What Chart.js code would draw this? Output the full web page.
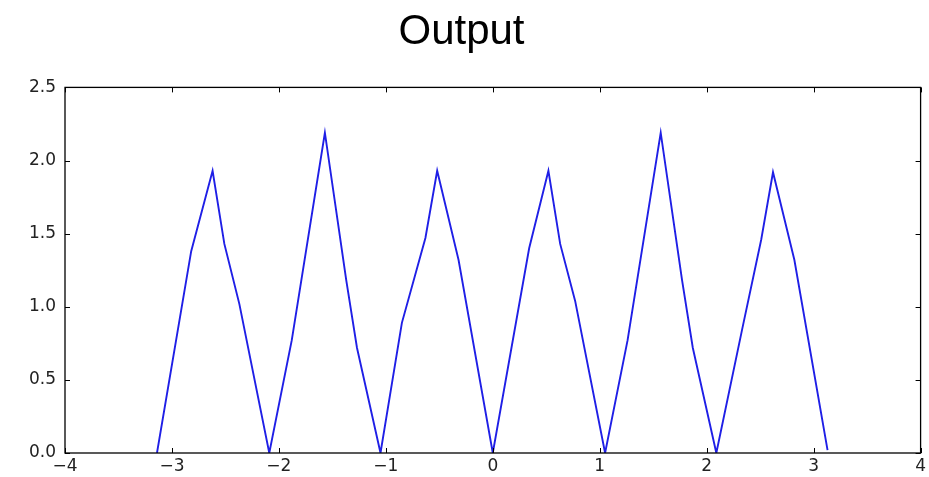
<!DOCTYPE html>
<html>

<head>
    <title>Output</title>
    <script src="https://cdn.jsdelivr.net/npm/chart.js"></script>
    <style>
        body { margin: 0; background: #ffffff; }
    </style>
</head>

<body>
    <canvas id="outputChart" width="929" height="477"></canvas>
    <script>
        // Sampled output curve, one row per hump between the zeros
        var xValues = [
            -3.14, -2.82, -2.62, -2.51, -2.37, -2.09,
            -1.88, -1.57, -1.37, -1.27, -1.05,
            -0.85, -0.63, -0.52, -0.32, 0,
            0.34, 0.52, 0.63, 0.77, 1.05,
            1.26, 1.57, 1.77, 1.87, 2.09,
            2.33, 2.51, 2.62, 2.82, 3.13
        ];
        var yValues = [
            0, 1.38, 1.93, 1.43, 1.02, 0,
            0.77, 2.19, 1.18, 0.72, 0,
            0.89, 1.47, 1.93, 1.32, 0,
            1.40, 1.93, 1.43, 1.04, 0,
            0.77, 2.19, 1.18, 0.72, 0,
            0.84, 1.46, 1.92, 1.32, 0.02
        ];
        var xTicks = [-4, -3, -2, -1, 0, 1, 2, 3, 4];
        var yTicks = [0, 0.5, 1.0, 1.5, 2.0, 2.5];

        var points = xValues.map(function (x, i) { return { x: x, y: yValues[i] }; });

        // Box around the plot plus inward ticks on all four sides
        var frameTicks = {
            id: 'frameTicks',
            afterDraw: function (chart) {
                var ctx = chart.ctx;
                var a = chart.chartArea;
                var sx = chart.scales.x;
                var sy = chart.scales.y;
                var len = 5;
                ctx.save();
                ctx.strokeStyle = '#000000';
                ctx.lineWidth = 1;
                ctx.beginPath();
                sx.ticks.forEach(function (t) {
                    var px = Math.round(sx.getPixelForValue(t.value)) + 0.5;
                    ctx.moveTo(px, a.bottom);
                    ctx.lineTo(px, a.bottom - len);
                    ctx.moveTo(px, a.top);
                    ctx.lineTo(px, a.top + len);
                });
                sy.ticks.forEach(function (t) {
                    var py = Math.round(sy.getPixelForValue(t.value)) + 0.5;
                    ctx.moveTo(a.left, py);
                    ctx.lineTo(a.left + len, py);
                    ctx.moveTo(a.right, py);
                    ctx.lineTo(a.right - len, py);
                });
                ctx.stroke();
                ctx.lineWidth = 1.3;
                ctx.strokeRect(a.left, a.top, a.right - a.left, a.bottom - a.top);
                ctx.restore();
            }
        };

        var tickFont = { family: 'DejaVu Sans', size: 17 };

        var ctx = document.getElementById('outputChart').getContext('2d');
        var chart = new Chart(ctx, {
            type: 'line',
            data: {
                datasets: [{
                    data: points,
                    borderColor: '#1f1fe6',
                    borderWidth: 1.9,
                    pointRadius: 0,
                    tension: 0,
                    fill: false
                }]
            },
            options: {
                responsive: false,
                animation: false,
                layout: { padding: { left: 0, right: 6, top: 0, bottom: 0 } },
                plugins: {
                    legend: { display: false },
                    tooltip: { enabled: false },
                    title: {
                        display: true,
                        text: 'Output',
                        color: '#000000',
                        font: { family: 'Liberation Sans', size: 42, weight: 'normal' },
                        padding: { top: 7, bottom: 30 }
                    }
                },
                scales: {
                    x: {
                        type: 'linear',
                        min: -4,
                        max: 4,
                        afterBuildTicks: function (scale) {
                            scale.ticks = xTicks.map(function (v) { return { value: v }; });
                        },
                        afterFit: function (scale) { scale.height = 24; },
                        grid: { display: false, drawTicks: false },
                        border: { display: false },
                        ticks: {
                            color: '#222222',
                            font: tickFont,
                            padding: 3,
                            maxRotation: 0,
                            callback: function (v) { return v < 0 ? '\u2212' + Math.abs(v) : String(v); }
                        }
                    },
                    y: {
                        min: 0,
                        max: 2.5,
                        afterBuildTicks: function (scale) {
                            scale.ticks = yTicks.map(function (v) { return { value: v }; });
                        },
                        afterFit: function (scale) { scale.width = 65; },
                        grid: { display: false, drawTicks: false },
                        border: { display: false },
                        ticks: {
                            color: '#222222',
                            font: tickFont,
                            padding: 9,
                            callback: function (v) { return v.toFixed(1); }
                        }
                    }
                }
            },
            plugins: [frameTicks]
        });
    </script>
</body>

</html>
